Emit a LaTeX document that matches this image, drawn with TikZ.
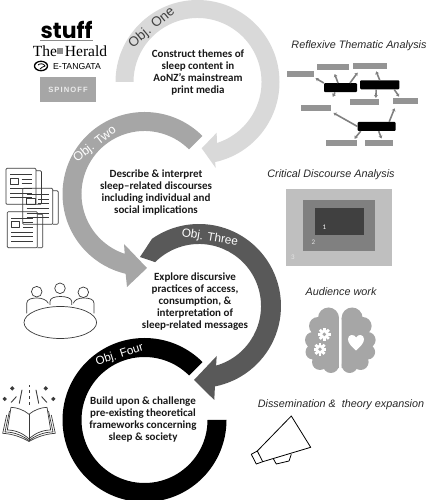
\documentclass[tikz,border=0pt]{standalone}
\usepackage{fontspec}
\setmainfont{Carlito}
\newfontfamily\titlefont{Liberation Sans}
\newfontfamily\heraldfont{Liberation Serif}
\newfontfamily\stufffont{Poppins}
\usetikzlibrary{arrows.meta, calc}

\definecolor{ringone}{HTML}{D9D9D9}
\definecolor{ringtwo}{HTML}{A6A6A6}
\definecolor{ringthree}{HTML}{595959}
\definecolor{iconline}{HTML}{3A3A3A}

\begin{document}
\begin{tikzpicture}[
                x=1pt, y=1pt,
                objtext/.style={align=center, font=\fontsize{11}{12}\selectfont\bfseries, text=black!90},
                method/.style={font=\titlefont\fontsize{10.8}{12}\selectfont\itshape, text=black!85},
                ringlabel/.style={inner sep=0pt, text=white},
                theme/.style={rectangle, fill=black!42, inner sep=0pt, minimum height=6.2pt},
                code/.style={rectangle, fill=black, rounded corners=1pt, inner sep=0pt, minimum height=9pt},
                maplink/.style={-{Stealth[length=3pt,width=4pt]}, line width=1.6pt, draw=black!50},
                level/.style={rectangle, inner sep=0pt},
                levelnum/.style={font=\fontsize{7}{8}\selectfont},
                icon/.style={draw=iconline, line width=0.7pt, line join=round},
                gearicon/.pic={
                    \fill[white] (0,0) circle (4.6);
                    \foreach \a in {0,45,...,315} \fill[white, rotate=\a] (-1.4,3.5) rectangle (1.4,6.4);
                    \fill[ringtwo] (0,0) circle (1.9);
                },
                paperdoc/.pic={
                    \draw[icon, rounded corners=1pt] (0,0) rectangle (30,-36);
                    \draw[icon, rounded corners=1pt] (30,-2.5) -- (35.5,-2.5) -- (35.5,-36) -- (30,-36);
                    \draw[icon] (4,-6.5) -- (26,-6.5) (15.5,-11) -- (26,-11) (15.5,-15.5) -- (26,-15.5);
                    \draw[icon] (4,-10) rectangle (12.5,-16);
                    \draw[icon] (4,-20.5) -- (26,-20.5) (4,-25) -- (26,-25) (4,-29.5) -- (26,-29.5);
                }
            ]
            \useasboundingbox (0,0) rectangle (428,500);

            \coordinate (cone) at (197.5,418);
            \coordinate (ctwo) at (144.5,306);
            \coordinate (cthree) at (199,194);
            \coordinate (cfour) at (144.5,80);

            % Rings
            \fill[ringone] ($(cone)+(180:82)$) arc[start angle=180, end angle=-77.6, radius=82]
                -- (215.7,332) -- (201.7,351.7) -- (216.7,367.3)
                -- ($(cone)+(-72.4:64)$) arc[start angle=-72.4, end angle=180, radius=64] -- cycle;
            \fill[ringtwo] ($(ctwo)+(45:82)$) arc[start angle=45, end angle=256.7, radius=82]
                -- (127,213) -- (147,232) -- (124,256)
                -- ($(ctwo)+(251.7:63)$) arc[start angle=251.7, end angle=45, radius=63] -- cycle;
            \fill[ringthree] (140,243) -- ($(cthree)+(125:82)$) arc[start angle=125, end angle=-78.8, radius=82]
                -- (214.3,100) -- (194,120) -- (216.7,144)
                -- ($(cthree)+(-74:62)$) arc[start angle=-74, end angle=135, radius=62] -- cycle;
            \fill[black] ($(cfour)+(45:82)$) arc[start angle=45, end angle=360, radius=82]
                -- ($(cfour)+(0:63)$) arc[start angle=360, end angle=45, radius=63] -- cycle;

            % Ring labels
            \node[ringlabel, text=black!75, rotate=40, font=\titlefont\fontsize{13.5}{14}\selectfont] (labone) at ($(cone)+(130:71)$) {Obj. One};
            \node[ringlabel, rotate=38, font=\titlefont\fontsize{12.5}{14}\selectfont] (labtwo) at ($(ctwo)+(135:70)$) {Obj. Two};
            \node[ringlabel, rotate=-9, font=\titlefont\fontsize{11.8}{14}\selectfont] (labthree) at ($(cthree)+(81:69)$) {Obj. Three};
            \node[ringlabel, rotate=18, font=\titlefont\fontsize{11.6}{14}\selectfont] (labfour) at ($(cfour)+(111:69.5)$) {Obj. Four};

            % Objectives
            \node[objtext] (objone) at (198,427.5) {Construct themes of\\sleep content in\\AoNZ’s mainstream\\print media};
            \node[objtext] (objtwo) at (156,307) {Describe \& interpret\\sleep–related discourses\\including individual and\\social implications};
            \node[objtext] (objthree) at (195,198) {Explore discursive\\practices of access,\\consumption, \&\\interpretation of\\sleep-related messages};
            \node[objtext] (objfour) at (143,80) {Build upon \& challenge\\pre-existing theoretical\\frameworks concerning\\sleep \& society};

            % Methods
            \node[method] (rta) at (359,454) {Reflexive Thematic Analysis};
            \node[method] (cda) at (331,325) {Critical Discourse Analysis};
            \node[method] (aud) at (341,208) {Audience work};
            \node[method] (dis) at (341,95) {Dissemination \&\ \ theory expansion};

            % Logos
            \node[font=\stufffont\fontsize{22}{22}\selectfont\bfseries, inner sep=0pt] (stuff) at (66.5,470) {stuff};
            \draw[black!45, line width=0.5pt] (40,460) -- (93,460);
            \node[font=\heraldfont\fontsize{15.5}{16}\selectfont, inner sep=0pt] (herald) at (70,449) {The\hspace{8pt}Herald};
            \fill[black!45] (56.5,446) rectangle (63,452);
            \draw[black, line width=1.3pt] (41,434) ellipse (6.5 and 4.7);
            \draw[black, line width=0.8pt] (38,435) .. controls (40,437) and (44,436.5) .. (45,434) .. controls (43,432.5) and (41,433) .. (40,431);
            \node[font=\titlefont\fontsize{8.7}{9}\selectfont, inner sep=0pt] (tangata) at (77,433.5) {E-TANGATA};
            \node[fill=ringtwo, minimum width=56pt, minimum height=25pt, inner sep=0pt, text=black!8,
                font=\titlefont\fontsize{7.6}{9}\selectfont\bfseries\addfontfeature{LetterSpace=14}] (spinoff) at (68,410.5) {SPINOFF};

            % Thematic map
            \node[theme, minimum width=26.7pt] (tha) at (300.7,425.8) {};
            \node[theme, minimum width=32pt] (thb) at (333.3,433) {};
            \node[theme, minimum width=33.7pt] (thc) at (370.2,434.3) {};
            \node[theme, minimum width=28.7pt] (thd) at (364.3,397.8) {};
            \node[theme, minimum width=24.7pt] (the) at (405.3,399.2) {};
            \node[theme, minimum width=30.6pt] (thf) at (316,392.3) {};
            \node[theme, minimum width=31pt] (thg) at (341.5,356.8) {};
            \node[theme, minimum width=28.6pt] (thh) at (379,356.8) {};
            \node[code, minimum width=33pt] (coa) at (340.5,412.3) {};
            \node[code, minimum width=39.3pt] (cob) at (379.7,415.2) {};
            \node[code, minimum width=38pt] (coc) at (376.7,373.5) {};

            \draw[maplink, shorten >=1.5pt] (coa.north west) -- (tha.south east);
            \draw[maplink, shorten >=4pt] ([xshift=-2.5]coa.north) -- (thb.south);
            \draw[maplink, shorten >=4.5pt] ([xshift=9.5]coa.north) -- ([xshift=-10]thc.south);
            \draw[maplink, shorten >=8.5pt] ([xshift=-5.5]coa.south) -- ([xshift=13]thf.north);
            \draw[maplink, shorten >=2.5pt] (cob.north) -- ([xshift=5]thc.south);
            \draw[maplink, shorten >=1pt] ([xshift=-3.5]cob.south) -- ([xshift=11.5]thd.north);
            \draw[maplink, shorten >=1pt] ([xshift=14.5]cob.south) -- ([xshift=-5.5]the.north);
            \draw[maplink, shorten >=4pt] (coc.west) -- ([xshift=14]thf.south);
            \draw[maplink, shorten >=4.5pt] ([xshift=12.5]coc.north) -- ([xshift=-9]the.south);
            \draw[maplink, shorten >=1.5pt] ([xshift=-16]coc.south) -- ([xshift=12]thg.north);
            \draw[maplink, shorten >=1.5pt] ([xshift=2]coc.south) -- ([xshift=3]thh.north);

            % Discourse levels
            \node[level, fill=black!25, minimum width=106.6pt, minimum height=76.7pt] (levthree) at (339,272.65) {};
            \node[level, fill=black!50, minimum width=72pt, minimum height=50.7pt] (levtwo) at (339,274.35) {};
            \node[level, fill=black!75, minimum width=49pt, minimum height=27.3pt] (levone) at (339.5,278.65) {};
            \node[levelnum, text=white] at (324.3,272.7) {1};
            \node[levelnum, text=black!12] at (313.3,257.7) {2};
            \node[levelnum, text=black!10] at (293,242.7) {3};

            % Newspapers
            \pic at (6,331.7) {paperdoc};
            \pic at (22.7,311.7) {paperdoc};
            \pic at (7.3,288.3) {paperdoc};

            % Meeting table
            \draw[icon] (60.3,177.5) ellipse (36.3 and 16);
            \draw[icon] (36.7,208.3) circle (5.3) (60,211.7) circle (5.3) (83.3,207.7) circle (5.3);
            \draw[icon] (26.7,186.7) -- (26.7,196.7) .. controls (26.7,201) and (32,202) .. (37,202) .. controls (42,202) and (47,200) .. (48.3,196.7);
            \draw[icon] (50,195) -- (50,198.5) .. controls (50,202) and (55,203.5) .. (60.5,203.5) .. controls (66,203.5) and (71.7,202) .. (71.7,198.5) -- (71.7,195);
            \draw[icon] (73.3,196.7) .. controls (74.5,200) and (78,202) .. (83.5,202) .. controls (89,202) and (94,201) .. (94,196.7) -- (94,186.7);

            % Brain
            \foreach \sx in {-1,1} {
                \begin{scope}[xshift=340.3, xscale=\sx]
                    \fill[ringtwo] (11.8,182) circle (10.5) (22.3,174) circle (9) (27.3,160) circle (8)
                        (27.3,148) circle (7.5) (20.3,138) circle (8) (9.4,135) circle (8);
                    \fill[ringtwo] (1.4,182) -- (20,178) -- (30,155) -- (22,132) -- (1.4,132) -- cycle;
                \end{scope}
            }
            \pic at (324.3,165.7) {gearicon};
            \pic at (320,150.7) {gearicon};
            \fill[white] (356,149.5) .. controls (351,154) and (348,157) .. (348,161) .. controls (348,165.5) and (354,166.5) .. (356,162.5)
                .. controls (358,166.5) and (364,165.5) .. (364,161) .. controls (364,157) and (361,154) .. (356,149.5);

            % Open book
            \foreach \sx in {-1,1} {
                \begin{scope}[xshift=29, xscale=\sx]
                    \draw[icon] (0,85.7) .. controls (5,90) and (12,92.5) .. (18,92.7) -- (21.7,70) .. controls (13,70) and (5,66) .. (0,61);
                    \draw[icon] (19.5,89) -- (24,68) .. controls (14,68) and (6,64) .. (0,59.5);
                    \draw[icon] (22.3,85) -- (26.3,66.7) .. controls (15,66) and (6,62) .. (0,58.5);
                    \draw[icon, line width=0.9pt, line cap=round] (9.7,96.7) -- (7,110) (17.7,97.7) -- (12.7,103.3);
                    \fill[iconline] (16.7,113.8) -- (18.9,111.6) -- (16.7,109.4) -- (14.5,111.6) -- cycle;
                    \fill[iconline] (24.3,103.2) -- (26.5,101) -- (24.3,98.8) -- (22.1,101) -- cycle;
                \end{scope}
            }
            \draw[icon] (29,85.7) -- (29,58.5);
            \draw[icon, line width=0.9pt, dashed] (29,95) -- (29,115);

            % Megaphone
            \draw[black, line width=0.8pt, line join=round] (291.3,84) -- (310.7,52.7) -- (262.7,38.3) -- (257.3,49) -- cycle;
            \draw[black, line width=0.8pt, line join=round] (257.3,49) -- (251.3,45.7) -- (256.3,36) -- (262.7,38.3);
            \draw[black, line width=0.8pt, line join=round] (273.3,41.3) -- (276.3,36) -- (289,39) -- (291.3,45.7);
        \end{tikzpicture}
\end{document}
